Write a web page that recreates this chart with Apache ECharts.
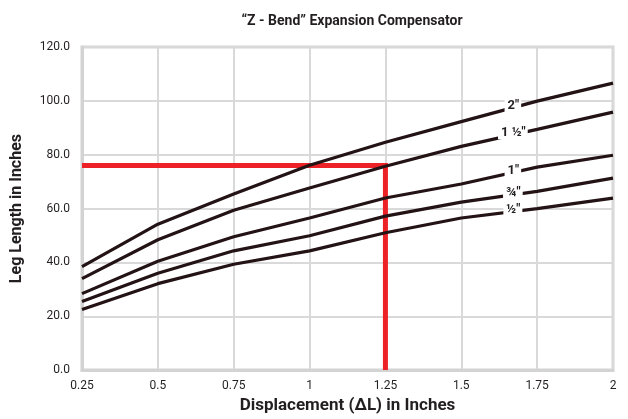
<!DOCTYPE html>
<html><head><meta charset="utf-8">
<script src="https://cdn.jsdelivr.net/npm/echarts@6/dist/echarts.min.js"></script>
<style>html,body{margin:0;padding:0;background:#fff}#c{width:628px;height:419px}</style>
</head><body><div id="c"></div>
<script>
const displacement = [0.25, 0.5, 0.75, 1, 1.25, 1.5, 1.75, 2];
const seriesNames = ['2"', '1 ½"', '1"', '¾"', '½"'];
const leg2 = [38.4, 54.2, 65.4, 76.1, 84.6, 92.3, 99.9, 106.6];
const leg1_5 = [34.0, 48.4, 59.4, 67.6, 75.7, 83.1, 89.4, 95.8];
const leg1 = [28.4, 40.4, 49.5, 56.5, 63.9, 69.1, 75.4, 79.8];
const leg0_75 = [25.5, 36.0, 44.3, 49.9, 57.2, 62.4, 66.4, 71.3];
const leg0_5 = [22.5, 32.1, 39.3, 44.3, 51.0, 56.5, 60.0, 63.9];
const exampleX = [0.25, 1.25, 1.25];
const exampleY = [76, 76, 0];
const yTicks = ['0.0', '20.0', '40.0', '60.0', '80.0', '100.0', '120.0'];
const xTicks = ['0.25', '0.5', '0.75', '1', '1.25', '1.5', '1.75', '2'];

const allSeries = [leg2, leg1_5, leg1, leg0_75, leg0_5];
const labelX = 1.67;
function interp(arr, x) {
  for (let i = 0; i < displacement.length - 1; i++) {
    if (x >= displacement[i] && x <= displacement[i + 1]) {
      const t = (x - displacement[i]) / (displacement[i + 1] - displacement[i]);
      return arr[i] + t * (arr[i + 1] - arr[i]);
    }
  }
  return arr[arr.length - 1];
}
const font = "'Liberation Sans Narrow', 'Roboto', sans-serif";
const lineColor = '#231314';

const series = [{
  type: 'line',
  data: exampleX.map((x, i) => [x, exampleY[i]]),
  symbol: 'none',
  lineStyle: { color: '#ec2227', width: 5, cap: 'butt', join: 'miter' },
  z: 2,
  silent: true
}];
allSeries.forEach((arr, k) => {
  series.push({
    type: 'line',
    name: seriesNames[k],
    data: displacement.map((x, i) => [x, arr[i]]),
    symbol: 'none',
    lineStyle: { color: lineColor, width: 3.2 },
    z: 3,
    markPoint: {
      symbol: 'rect',
      symbolSize: 1,
      itemStyle: { color: 'rgba(0,0,0,0)' },
      silent: true,
      label: {
        show: true,
        position: 'inside',
        formatter: seriesNames[k],
        fontFamily: font,
        fontWeight: 'bold',
        fontSize: 13,
        color: '#231f20',
        backgroundColor: '#fff',
        padding: [0, 2, 0, 3],
        offset: [0, -2]
      },
      data: [{ coord: [labelX, interp(arr, labelX)] }]
    }
  });
});

const chart = echarts.init(document.getElementById('c'), null, { renderer: 'canvas' });
chart.setOption({
  animation: false,
  backgroundColor: '#fff',
  title: {
    text: '“Z - Bend” Expansion Compensator',
    left: 347, top: 9, textAlign: 'center',
    textStyle: { fontFamily: font, fontWeight: 'bold', fontSize: 14, color: '#231f20' }
  },
  grid: {
    left: 82, right: 15, top: 47, bottom: 47,
    show: true, borderColor: '#d3d3d3', borderWidth: 3, backgroundColor: '#fff'
  },
  xAxis: {
    type: 'value', min: 0.25, max: 2, interval: 0.25,
    name: 'Displacement (ΔL) in Inches', nameLocation: 'middle', nameGap: 26,
    nameTextStyle: { fontFamily: font, fontWeight: 'bold', fontSize: 17, color: '#231f20' },
    axisLine: { show: true, lineStyle: { color: '#d3d3d3', width: 3 } },
    axisTick: { show: false },
    axisLabel: {
      fontFamily: font, fontSize: 12, color: '#231f20', margin: 10,
      formatter: (v) => { const i = Math.round((v - 0.25) / 0.25); return xTicks[i] !== undefined ? xTicks[i] : ''; }
    },
    splitLine: { show: true, lineStyle: { color: '#d9d9d9', width: 2 } }
  },
  yAxis: {
    type: 'value', min: 0, max: 120, interval: 20,
    name: 'Leg Length in Inches', nameLocation: 'middle', nameGap: 57, nameRotate: 90,
    nameTextStyle: { fontFamily: font, fontWeight: 'bold', fontSize: 16, color: '#231f20' },
    axisLine: { show: true, lineStyle: { color: '#d3d3d3', width: 3 } },
    axisTick: { show: false },
    axisLabel: {
      fontFamily: font, fontSize: 12, color: '#231f20', margin: 12,
      formatter: (v) => { const i = Math.round(v / 20); return yTicks[i] !== undefined ? yTicks[i] : ''; }
    },
    splitLine: { show: true, lineStyle: { color: '#d9d9d9', width: 2 } }
  },
  series: series
});
</script></body></html>
